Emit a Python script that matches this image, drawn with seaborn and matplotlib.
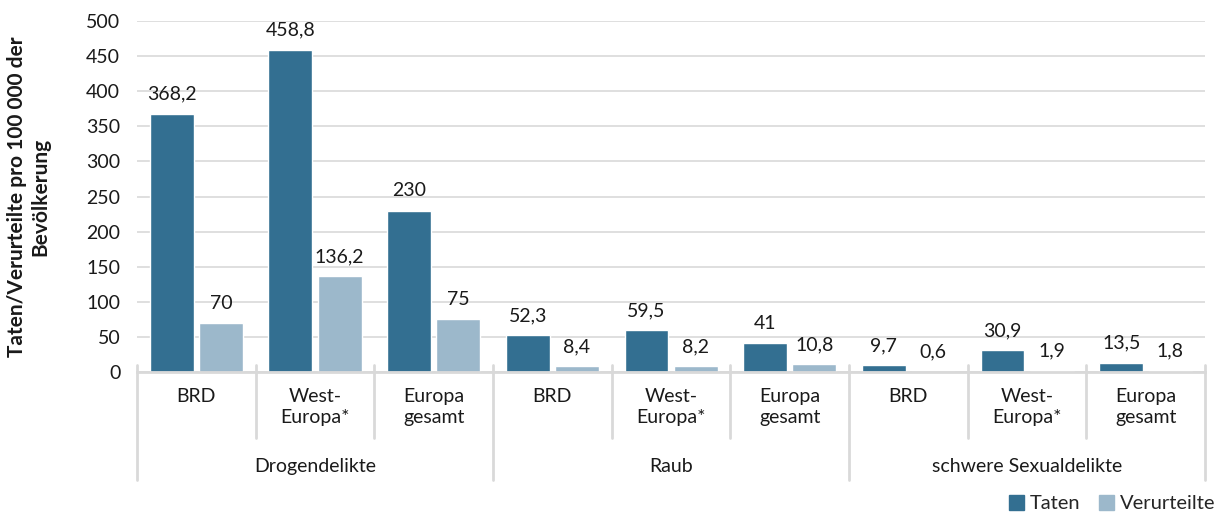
import matplotlib
matplotlib.use("Agg")
from matplotlib import pyplot as plt
from matplotlib import transforms
from matplotlib.patches import Patch
import seaborn as sns
import pandas as pd

groups = ["Drogendelikte", "Raub", "schwere Sexualdelikte"]
regions = ["BRD", "West-\nEuropa*", "Europa\ngesamt"]
series = ["Taten", "Verurteilte"]
taten = [368.2, 458.8, 230, 52.3, 59.5, 41, 9.7, 30.9, 13.5]
verurteilte = [70, 136.2, 75, 8.4, 8.2, 10.8, 0.6, 1.9, 1.8]
colors = ["#336f91", "#9cb8cb"]

cats = [g + "|" + r for g in groups for r in regions]
df = pd.DataFrame({
    "cat": cats * 2,
    "serie": ["Taten"] * 9 + ["Verurteilte"] * 9,
    "wert": taten + verurteilte,
})

sns.set_style("white")
plt.rcParams["font.family"] = ["Lato", "DejaVu Sans"]
fs = 14

fig = plt.figure(figsize=(12.26, 5.24), dpi=100)
ax = fig.add_axes([0.1117, 0.29, 0.8713, 0.67])

sns.barplot(data=df, x="cat", y="wert", hue="serie", order=cats,
            hue_order=series, palette=colors, width=0.83, gap=0.11,
            saturation=1, ax=ax, legend=False)

for cont in ax.containers:
    labels = [("%g" % v).replace(".", ",") for v in cont.datavalues]
    ax.bar_label(cont, labels=labels, padding=8, fontsize=fs, color="#1a1a1a")

ax.set_ylim(0, 500)
ax.set_yticks(range(0, 501, 50))
ax.tick_params(axis="y", labelsize=fs, length=0, pad=12, labelcolor="#1a1a1a")
ax.set_xlim(-0.5, 8.5)
ax.set_xticks([])
ax.set_xlabel("")
ax.set_ylabel("Taten/Verurteilte pro 100 000 der\nBevölkerung", fontsize=15,
              fontweight="bold", labelpad=26, color="#1a1a1a")
ax.yaxis.grid(True, color="#d9d9d9", linewidth=1.2)
ax.set_axisbelow(True)
for s in ["top", "right", "left"]:
    ax.spines[s].set_visible(False)
ax.spines["bottom"].set_color("#d9d9d9")
ax.spines["bottom"].set_linewidth(2)

# zweistufige Achsenbeschriftung
tr = transforms.blended_transform_factory(ax.transData, ax.transAxes)
for i in range(10):
    xb = i - 0.5
    y_end = -0.308 if i % 3 == 0 else -0.188
    ax.plot([xb, xb], [0.02, y_end], color="#d9d9d9", lw=2, transform=tr,
            clip_on=False)
for i, c in enumerate(cats):
    ax.text(i, -0.045, regions[i % 3], transform=tr, ha="center", va="top",
            fontsize=fs, linespacing=1.3, color="#1a1a1a")
for j, g in enumerate(groups):
    ax.text(3 * j + 1, -0.27, g, transform=tr, ha="center", va="center",
            fontsize=fs, color="#1a1a1a")

handles = [Patch(color=c, label=s) for c, s in zip(colors, series)]
fig.legend(handles=handles, loc="lower right", bbox_to_anchor=(1.006, -0.012),
           ncol=2, frameon=False, fontsize=fs + 0.5, handlelength=0.75,
           handleheight=0.75, handletextpad=0.3, columnspacing=0.9)

fig.savefig("out.png", dpi=100)
